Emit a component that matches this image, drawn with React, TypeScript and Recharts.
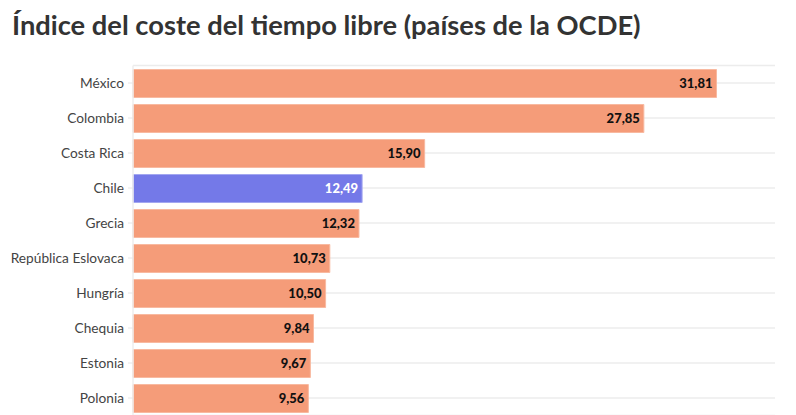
import React from 'react';
import { BarChart, Bar, XAxis, YAxis, CartesianGrid, Cell, LabelList } from 'recharts';

const countries = ['México', 'Colombia', 'Costa Rica', 'Chile', 'Grecia', 'República Eslovaca', 'Hungría', 'Chequia', 'Estonia', 'Polonia'];
const values = [31.81, 27.85, 15.9, 12.49, 12.32, 10.73, 10.5, 9.84, 9.67, 9.56];
const highlight = 'Chile';

const ORANGE = '#f59c79';
const BLUE = '#7479e8';

const data = countries.map((name, i) => ({ name, value: values[i] }));

const fmt = (v: number) => v.toFixed(2).replace('.', ',');

const ValueLabel = (props: any) => {
  const { x, y, width, height, value, index } = props;
  const isHi = countries[index] === highlight;
  return (
    <text
      x={x + width - 4}
      y={y + height / 2}
      dy="0.36em"
      textAnchor="end"
      fontFamily="Lato, sans-serif"
      fontWeight={900}
      fontSize={13}
      fill={isHi ? '#ffffff' : '#111111'}
      stroke={isHi ? BLUE : ORANGE}
      strokeWidth={3}
      paintOrder="stroke"
      strokeLinejoin="round"
    >
      {fmt(value)}
    </text>
  );
};

const App: React.FC = () => {
  return (
    <div style={{ position: 'absolute', left: 0, top: 0, width: 796, height: 420, background: '#fff', overflow: 'hidden' }}>
      <div
        style={{
          position: 'absolute',
          left: 12,
          top: 8,
          fontFamily: 'Lato, sans-serif',
          fontWeight: 700,
          fontSize: 27.3,
          color: '#333333',
          whiteSpace: 'nowrap',
        }}
      >
        Índice del coste del tiempo libre (países de la OCDE)
      </div>
      <BarChart
        width={796}
        height={420}
        data={data}
        layout="vertical"
        margin={{ top: 65.5, right: 21, bottom: 4.5, left: 0 }}
        barSize={28}
      >
        <CartesianGrid horizontal vertical={false} stroke="#ececec" strokeWidth={1.5} />
        <XAxis type="number" domain={[0, 35]} hide />
        <YAxis
          type="category"
          dataKey="name"
          width={133}
          axisLine={{ stroke: '#eeeeee', strokeWidth: 1.5 }}
          tickLine={{ stroke: '#e6e6e6' }}
          tickSize={5}
          tickMargin={4}
          tick={{ fontFamily: 'Lato, sans-serif', fontSize: 13.7, fill: '#444444' }}
        />
        <Bar dataKey="value" isAnimationActive={false} stroke="#f8b9a0" strokeWidth={1}>
          {data.map((d, i) => (
            <Cell key={i} fill={d.name === highlight ? BLUE : ORANGE} stroke={d.name === highlight ? '#a3a7f0' : '#f8b9a0'} />
          ))}
          <LabelList dataKey="value" content={ValueLabel} />
        </Bar>
      </BarChart>
    </div>
  );
};

export default App;
